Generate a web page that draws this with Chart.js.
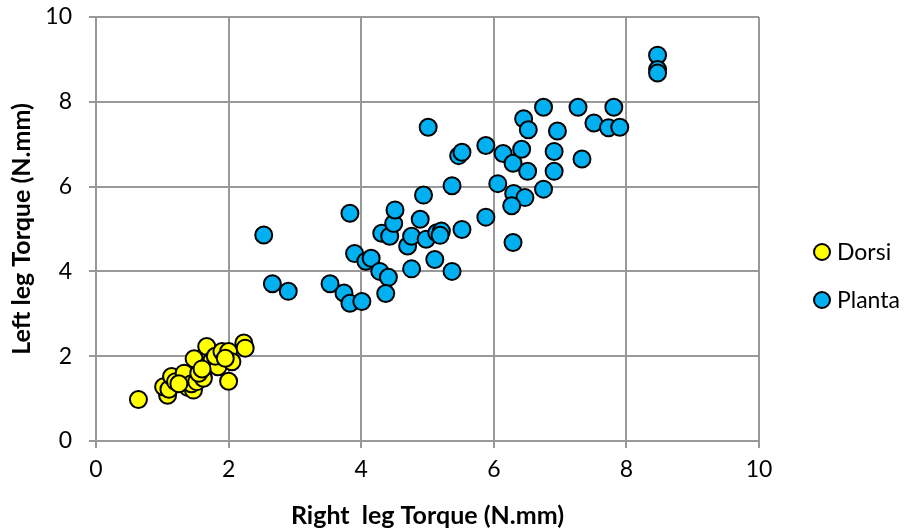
<!DOCTYPE html>
<html>
<head>
<meta charset="utf-8">
<script src="https://cdn.jsdelivr.net/npm/chart.js@4.4.1/dist/chart.umd.min.js"></script>
<style>
  html, body { margin: 0; padding: 0; background: #fff; }
  canvas { display: block; }
</style>
</head>
<body>
<canvas id="chart" width="906" height="531"></canvas>
<script>
// ===== Data =====
const seriesNames = ["Dorsi", "Planta"];
const seriesColors = ["#FFFF00", "#00B0F0"];

const dorsiX = [0.64, 1.08, 1.02, 1.10, 1.14, 1.20, 1.33, 1.39, 1.47, 1.44, 1.52, 1.62, 1.55, 1.48,
  1.67, 1.69, 1.75, 1.84, 1.80, 1.90, 2.00, 2.05, 1.95, 2.00, 2.23, 2.25, 1.60, 1.25];
const dorsiY = [0.98, 1.08, 1.28, 1.22, 1.52, 1.40, 1.60, 1.26, 1.20, 1.35, 1.40, 1.48, 1.60, 1.94,
  2.23, 1.79, 1.90, 1.75, 2.00, 2.11, 2.11, 1.87, 1.95, 1.41, 2.31, 2.19, 1.70, 1.35];

const plantaX = [2.53, 2.66, 2.90, 3.53, 3.74, 3.83, 4.01, 3.83, 3.90, 4.07, 4.15, 4.28, 4.41, 4.37,
  4.31, 4.43, 4.49, 4.51, 4.70, 4.76, 4.76, 4.89, 4.94, 4.98, 5.14, 5.11, 5.21, 5.19, 5.37, 5.52,
  5.37, 5.01, 5.47, 5.52, 5.88, 5.88, 6.06, 6.14, 6.29, 6.42, 6.51, 6.30, 6.47, 6.27, 6.29, 6.45,
  6.52, 6.75, 6.75, 6.96, 6.91, 6.91, 7.27, 7.33, 7.51, 7.73, 7.81, 7.90, 8.47, 8.47, 8.47];
const plantaY = [4.86, 3.71, 3.53, 3.71, 3.49, 3.25, 3.29, 5.37, 4.42, 4.24, 4.31, 4.00, 3.86, 3.48,
  4.90, 4.83, 5.13, 5.45, 4.60, 4.83, 4.06, 5.23, 5.80, 4.76, 4.91, 4.28, 4.95, 4.85, 4.00, 4.99,
  6.02, 7.40, 6.73, 6.81, 6.97, 5.28, 6.07, 6.78, 6.55, 6.88, 6.36, 5.84, 5.74, 5.55, 4.68, 7.60,
  7.34, 7.87, 5.94, 7.31, 6.83, 6.36, 7.87, 6.65, 7.50, 7.39, 7.87, 7.40, 9.10, 8.76, 8.68];

const xTicks = [0, 2, 4, 6, 8, 10];
const yTicks = [0, 2, 4, 6, 8, 10];
const xTitle = "Right  leg Torque (N.mm)";
const yTitle = "Left leg Torque (N.mm)";

const FONT = "Lato, 'Open Sans', sans-serif";
const GRID = "#999999";

function toPoints(xs, ys) {
  return xs.map((x, i) => ({ x: x, y: ys[i] }));
}

// ===== Legend drawn beside the plot (Excel style) =====
const sideLegend = {
  id: "sideLegend",
  afterDraw(chart) {
    const { ctx, chartArea } = chart;
    const cx = chartArea.right + 63;
    const midY = (chartArea.top + chartArea.bottom) / 2;
    const rows = [midY + 23, midY + 71];
    ctx.save();
    ctx.font = "23px " + FONT;
    ctx.textBaseline = "middle";
    ctx.textAlign = "left";
    seriesNames.forEach((name, i) => {
      ctx.beginPath();
      ctx.arc(cx, rows[i], 8, 0, Math.PI * 2);
      ctx.fillStyle = seriesColors[i];
      ctx.fill();
      ctx.lineWidth = 2;
      ctx.strokeStyle = "#000";
      ctx.stroke();
      ctx.fillStyle = "#000";
      ctx.fillText(name, cx + 15, rows[i] + 1);
    });
    ctx.restore();
  }
};

const ctx = document.getElementById("chart").getContext("2d");
new Chart(ctx, {
  type: "scatter",
  data: {
    datasets: [
      {
        label: seriesNames[0],
        data: toPoints(dorsiX, dorsiY),
        backgroundColor: seriesColors[0],
        borderColor: "#000",
        borderWidth: 2,
        pointRadius: 8.5
      },
      {
        label: seriesNames[1],
        data: toPoints(plantaX, plantaY),
        backgroundColor: seriesColors[1],
        borderColor: "#000",
        borderWidth: 2,
        pointRadius: 8.5
      }
    ]
  },
  options: {
    responsive: false,
    animation: false,
    layout: { padding: { top: 17, right: 147, bottom: 0, left: 0 } },
    plugins: {
      legend: { display: false },
      tooltip: { enabled: false }
    },
    scales: {
      x: {
        type: "linear",
        min: 0,
        max: 10,
        afterBuildTicks: (s) => { s.ticks = xTicks.map(v => ({ value: v })); },
        afterFit: (s) => { s.height = 90; s.paddingLeft = 0; s.paddingRight = 0; },
        grid: { color: GRID, lineWidth: 2, tickLength: 7 },
        border: { color: GRID, width: 2 },
        ticks: { color: "#000", font: { family: FONT, size: 23 }, padding: 8, maxRotation: 0 },
        title: {
          display: true,
          text: xTitle,
          color: "#000",
          font: { family: FONT, size: 25, weight: "bold" },
          padding: { top: 0, bottom: 0 }
        }
      },
      y: {
        type: "linear",
        min: 0,
        max: 10,
        afterBuildTicks: (s) => { s.ticks = yTicks.map(v => ({ value: v })); },
        afterFit: (s) => { s.width = 96; s.paddingTop = 0; s.paddingBottom = 0; },
        grid: { color: GRID, lineWidth: 2, tickLength: 7 },
        border: { color: GRID, width: 2 },
        ticks: { color: "#000", font: { family: FONT, size: 23 }, padding: 17 },
        title: {
          display: true,
          text: yTitle,
          color: "#000",
          font: { family: FONT, size: 25, weight: "bold" },
          padding: { top: 7, bottom: 0 }
        }
      }
    }
  },
  plugins: [sideLegend]
});
</script>
</body>
</html>
